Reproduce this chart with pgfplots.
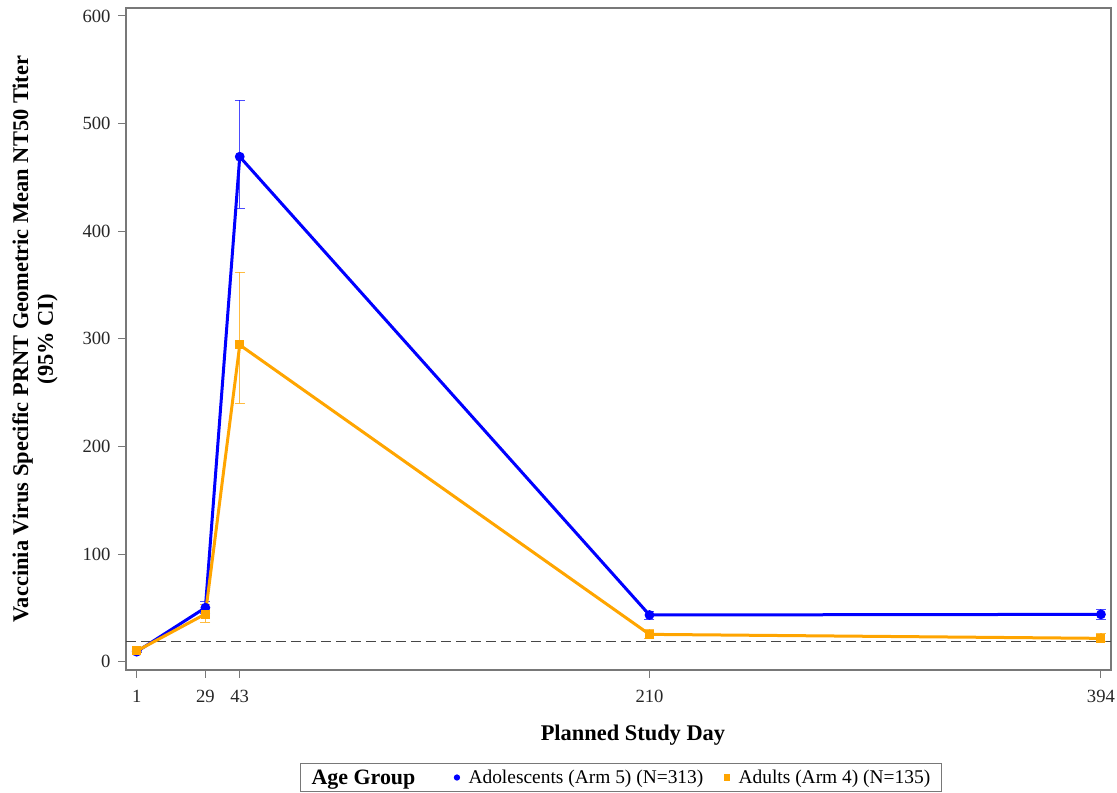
\documentclass[border=0pt]{standalone}
\usepackage{fontspec}
\setmainfont{Liberation Serif}
\usepackage{pgfplots}
\pgfplotsset{compat=1.18}
\definecolor{cblue}{RGB}{0,0,255}
\definecolor{corange}{RGB}{255,165,0}
\definecolor{axgray}{RGB}{120,120,120}
\definecolor{dashgray}{RGB}{70,70,70}
\begin{document}
\begin{tikzpicture}[x=1bp,y=1bp]
\useasboundingbox (0,0) rectangle (1117,793);
\begin{axis}[
  at={(126bp,123bp)}, anchor=south west,
  scale only axis, width=985bp, height=662bp,
  xmin=-3.36, xmax=398.1, ymin=-7.7, ymax=607.4,
  xtick={1,29,43,210,394}, ytick={0,100,200,300,400,500,600},
  tick align=outside, major tick length=8bp,
  xtick pos=bottom, ytick pos=left,
  tick style={axgray, line width=1bp},
  axis line style={axgray, line width=1.2bp},
  /pgf/number format/assume math mode=true,
  ticklabel style={font=\fontsize{18.7}{20}\selectfont, text=black!85},
  xticklabel style={yshift=-9bp},
  yticklabel style={xshift=-4bp},
  xlabel={Planned Study Day},
  xlabel style={at={(axis description cs:0.5147,0)}, yshift=-65bp, anchor=center,
    font=\bfseries\fontsize{22.5}{25}\selectfont},
  ylabel={Vaccinia Virus Specific PRNT Geometric Mean NT50 Titer\\(95\% CI)},
  ylabel style={at={(axis description cs:-0.0924,0.5)}, anchor=center, align=center,
    font=\bfseries\fontsize{22.5}{25}\selectfont},
  legend style={at={(0.5025,-0.1405)}, anchor=north, draw=axgray, line width=1bp,
    font=\fontsize{19.5}{21}\selectfont, inner xsep=9bp, inner ysep=4bp,
    /tikz/column 1/.style={column sep=0bp},
    /tikz/column 2/.style={column sep=37bp},
    /tikz/column 3/.style={column sep=7bp},
    /tikz/column 4/.style={column sep=19bp},
    /tikz/column 5/.style={column sep=7bp}},
  legend columns=3,
  legend cell align=left,
]
\addlegendimage{empty legend}
\addlegendentry{\bfseries\fontsize{22}{24}\selectfont Age Group}
\addlegendimage{only marks, mark=*, cblue, mark size=2.6bp}
\addlegendentry{Adolescents (Arm 5) (N=313)}
\addlegendimage{only marks, mark=square*, corange, mark size=2.6bp}
\addlegendentry{Adults (Arm 4) (N=135)}

\addplot[forget plot, dashgray, line width=1bp, dash pattern=on 10bp off 5bp]
  coordinates {(-3.36,19) (398.1,19)};

\addplot[forget plot, cblue, line width=3bp, mark=*, mark size=3.3bp,
  error bars/.cd, y dir=both, y explicit,
  error bar style={line width=1bp, opacity=0.7},
  error mark options={rotate=90, mark size=5bp, line width=1bp, opacity=0.7}]
  coordinates {
  (1,9.3) += (0,1.0) -= (0,1.0)
  (29,50.2) += (0,5.6) -= (0,5.7)
  (43,469.2) += (0,52.6) -= (0,47.9)
  (210,43.4) += (0,3.4) -= (0,4.0)
  (394,44.0) += (0,4.7) -= (0,4.6)
  };

\addplot[forget plot, corange, line width=3bp, mark=square*, mark size=3bp,
  error bars/.cd, y dir=both, y explicit,
  error bar style={line width=1.2bp, opacity=0.75},
  error mark options={rotate=90, mark size=5bp, line width=1.2bp, opacity=0.75}]
  coordinates {
  (1,10.0) += (0,1.2) -= (0,1.2)
  (29,44.3) += (0,8.5) -= (0,7.7)
  (43,294.3) += (0,67.5) -= (0,54.2)
  (210,25.4) += (0,4.7) -= (0,3.7)
  (394,21.7) += (0,4.7) -= (0,3.1)
  };
\end{axis}
\end{tikzpicture}
\end{document}
